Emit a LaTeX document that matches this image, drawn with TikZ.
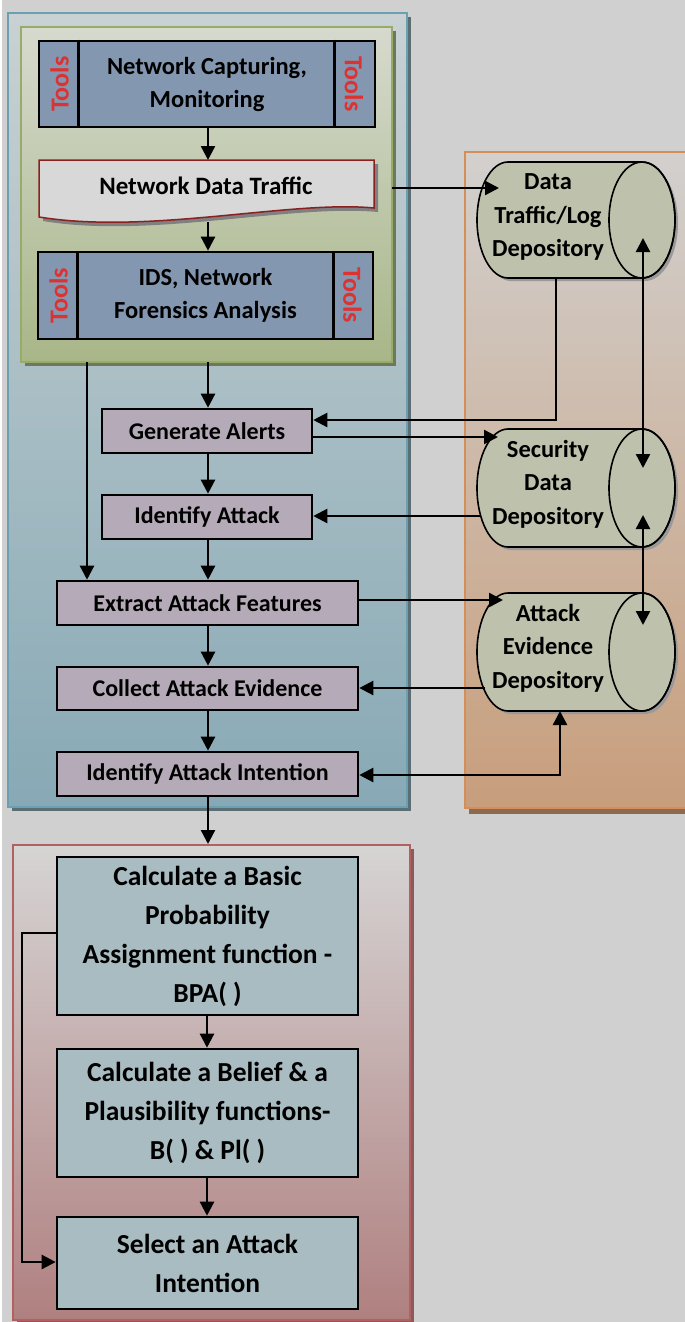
\documentclass[tikz,border=0pt]{standalone}
\usepackage{fontspec}
\setmainfont{Carlito}
\usetikzlibrary{arrows.meta,calc}
\definecolor{bgc}{HTML}{D0D0D0}
\definecolor{slate}{HTML}{8497B0}
\definecolor{lav}{HTML}{B5ABB8}
\definecolor{lblue}{HTML}{A9BCC2}
\definecolor{cyl}{HTML}{BEC2AC}
\definecolor{toolred}{HTML}{DC3232}
\definecolor{docred}{HTML}{8A2020}
\definecolor{docfill}{HTML}{D8D8D8}
\definecolor{blueT}{RGB}{201,209,211}
\definecolor{blueB}{RGB}{135,169,181}
\definecolor{blueD}{RGB}{106,160,178}
\definecolor{blueS}{RGB}{90,110,115}
\definecolor{greenT}{RGB}{214,218,206}
\definecolor{greenB}{RGB}{168,182,136}
\definecolor{greenD}{RGB}{150,172,104}
\definecolor{greenS}{RGB}{110,120,90}
\definecolor{orT}{RGB}{210,208,206}
\definecolor{orB}{RGB}{200,158,124}
\definecolor{orD}{RGB}{214,142,88}
\definecolor{orS}{RGB}{140,106,80}
\definecolor{redT}{RGB}{214,212,212}
\definecolor{redB}{RGB}{176,128,128}
\definecolor{redD}{RGB}{178,96,96}
\definecolor{redS}{RGB}{140,90,90}
\tikzset{
  arr/.style={draw=black, line width=2.4pt, -{Triangle[length=14pt,width=14pt]}},
  darr/.style={draw=black, line width=2.4pt, {Triangle[length=14pt,width=14pt]}-{Triangle[length=14pt,width=14pt]}},
  toolbox/.style={draw=black, line width=2.6pt, fill=slate, inner sep=0pt, font=\bfseries\fontsize{24.5}{33}\selectfont, align=center},
  procbox/.style={draw=black, line width=2.6pt, fill=lav, inner sep=0pt, font=\bfseries\fontsize{24}{28}\selectfont, align=center},
  calcbox/.style={draw=black, line width=2.6pt, fill=lblue, inner sep=0pt, font=\bfseries\fontsize{27.5}{39}\selectfont, align=center, minimum width=301pt},
  tools/.style={font=\bfseries\fontsize{26}{28}\selectfont, text=toolred, inner sep=0pt},
  cyltext/.style={font=\bfseries\fontsize{24.5}{33.5}\selectfont, align=center, inner sep=0pt},
}
\newcommand{\cylinder}[4]{% name, left, top, bottom
  \pgfmathsetmacro{\cL}{#2}\pgfmathsetmacro{\cT}{#3}\pgfmathsetmacro{\cB}{#4}
  \pgfmathsetmacro{\cM}{(#3+#4)/2}\pgfmathsetmacro{\cH}{(#4-#3)/2}
  \fill[black!40] (\cL+31+3,\cT+3) -- (642+3,\cT+3) arc[start angle=90,end angle=-90,x radius=33pt,y radius=\cH pt] -- (\cL+31+3,\cB+3) arc[start angle=270,end angle=90,x radius=31pt,y radius=\cH pt] -- cycle;
  \draw[line width=1.6pt, fill=cyl] (\cL+31,\cT) -- (642,\cT) arc[start angle=90,end angle=-90,x radius=33pt,y radius=\cH pt] -- (\cL+31,\cB) arc[start angle=270,end angle=90,x radius=31pt,y radius=\cH pt] -- cycle;
  \draw[line width=1.6pt] (642,\cM) ellipse[x radius=33pt,y radius=\cH pt];
  \coordinate (#1-w) at (\cL,\cM);
  \coordinate (#1-e) at (642,\cM);
}
\begin{document}
\begin{tikzpicture}[x=1pt,y=-1pt]
\useasboundingbox (0,0) rectangle (685,1322);
\fill[bgc] (0,0) rectangle (685,1322);
\fill[white] (0,0) rectangle (2,1322);
% ---- frames ----
\fill[blueS] (12,17) rectangle (411,811);
\shade[top color=blueT, bottom color=blueB] (8,13) rectangle (407,807);
\draw[line width=2.2pt, draw=blueD] (8,13) rectangle (407,807);
\fill[greenS] (25,31) rectangle (396,366);
\shade[top color=greenT, bottom color=greenB] (21,27) rectangle (392,362);
\draw[line width=2.2pt, draw=greenD] (21,27) rectangle (392,362);
\fill[orS] (469,156) rectangle (690,814);
\shade[top color=orT, bottom color=orB] (465,152) rectangle (690,808);
\draw[line width=2pt, draw=orD] (690,152) -- (465,152) -- (465,808) -- (690,808);
\fill[redS] (17,849) rectangle (414,1324);
\shade[top color=redT, bottom color=redB] (13,845) rectangle (410,1320);
\draw[line width=2.2pt, draw=redD] (13,845) rectangle (410,1320);
% ---- top tool boxes ----
\node[toolbox, minimum width=336pt, minimum height=86pt] (cap) at (207,84) {Network Capturing,\\Monitoring};
\draw[line width=2.6pt] ([xshift=41pt]cap.north west) -- ([xshift=41pt]cap.south west);
\draw[line width=2.6pt] ([xshift=-42pt]cap.north east) -- ([xshift=-42pt]cap.south east);
\node[tools, rotate=90] (t1) at (59.5,84) {Tools};
\node[tools, rotate=-90] (t2) at (354,84) {Tools};
% document shape
\fill[black!50] (43,164) -- (378,164) -- (378,212) .. controls (290,204) and (150,239) .. (43,221) -- cycle;
\draw[line width=1.5pt, draw=docred, fill=docfill] (39,160) -- (374,160) -- (374,208) .. controls (290,200) and (150,235) .. (39,217) -- cycle;
\node[font=\bfseries\fontsize{25}{28}\selectfont, inner sep=0pt] (ndt) at (206,186) {Network Data Traffic};
\coordinate (ndt-top) at (208,160);
\coordinate (ndt-bot) at (208,222);
\node[toolbox, minimum width=335pt, minimum height=87pt] (ids) at (205.5,295.5) {IDS, Network\\Forensics Analysis};
\draw[line width=2.6pt] ([xshift=41pt]ids.north west) -- ([xshift=41pt]ids.south west);
\draw[line width=2.6pt] ([xshift=-41pt]ids.north east) -- ([xshift=-41pt]ids.south east);
\node[tools, rotate=90] (t3) at (58.5,295.5) {Tools};
\node[tools, rotate=-90] (t4) at (352.5,295.5) {Tools};
% ---- process boxes ----
\node[procbox, minimum width=210pt, minimum height=44pt] (ga) at (207,431) {Generate Alerts};
\node[procbox, minimum width=210pt, minimum height=44pt] (ia) at (207,517) {Identify Attack};
\node[procbox, minimum width=301pt, minimum height=44pt] (eaf) at (207.5,603) {Extract Attack Features};
\node[procbox, minimum width=301pt, minimum height=43pt] (cae) at (207.5,688.5) {Collect Attack Evidence};
\node[procbox, minimum width=301pt, minimum height=44pt] (iai) at (207.5,774) {Identify Attack Intention};
% ---- calc boxes ----
\node[calcbox, minimum height=158pt] (bpa) at (207.5,936) {Calculate a Basic\\Probability\\Assignment function -\\BPA( )};
\node[calcbox, minimum height=128pt] (bel) at (207.5,1113) {Calculate a Belief \& a\\Plausibility functions-\\B( ) \& Pl( )};
\node[calcbox, minimum height=92pt] (sel) at (207.5,1263) {Select an Attack\\Intention};
% ---- cylinders ----
\cylinder{dtl}{477}{162}{278}
\cylinder{sdd}{477}{429}{547}
\cylinder{aed}{477}{593}{711}
\node[cyltext] (dtlt) at (548,217) {Data\\Traffic/Log\\Depository};
\node[cyltext] (sddt) at (548,484) {Security\\Data\\Depository};
\node[cyltext] (aedt) at (548,648) {Attack\\Evidence\\Depository};
% ---- connectors ----
\draw[arr] (cap.south -| ndt-top) -- (ndt-top);
\draw[arr] (ndt-bot) -- (ids.north -| ndt-bot);
\draw[arr] (392,188) -- (499,188);
\draw[arr] (556,278) -- (556,420) -- (ga.east |- 0,420);
\draw[arr] (ga.east |- 0,437) -- (498,437);
\draw[darr] (643,238) -- (643,468);
\draw[darr] (643,515) -- (643,625);
\draw[arr] (481,516) -- (ia.east |- 0,516);
\draw[arr] (eaf.east |- 0,600) -- (503,600);
\draw[arr] (485,688) -- (cae.east |- 0,688);
\draw[darr] (iai.east |- 0,775) -- (560,775) -- (560,711);
\draw[arr] (87,362) -- (eaf.north -| 87,0);
\draw[arr] (208,362) -- (ga.north -| 208,0);
\draw[arr] (ga.south -| 208,0) -- (ia.north -| 208,0);
\draw[arr] (ia.south -| 208,0) -- (eaf.north -| 208,0);
\draw[arr] (eaf.south -| 208,0) -- (cae.north -| 208,0);
\draw[arr] (cae.south -| 208,0) -- (iai.north -| 208,0);
\draw[arr] (iai.south -| 208,0) -- (208,844);
\draw[arr] (bpa.south -| 207,0) -- (bel.north -| 207,0);
\draw[arr] (bel.south -| 207,0) -- (sel.north -| 207,0);
\draw[arr] (bpa.west |- 0,933) -- (22,933) -- (22,1262) -- (sel.west |- 0,1262);
\end{tikzpicture}
\end{document}
